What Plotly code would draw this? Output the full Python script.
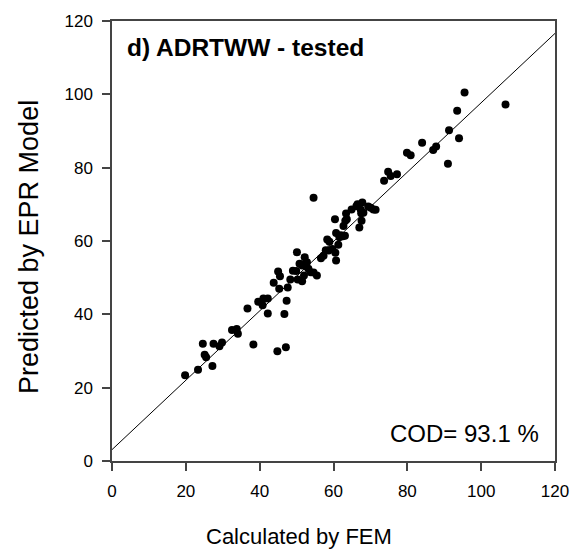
import plotly.graph_objects as go

# Calculated by FEM (x) and Predicted by EPR Model (y)
fem = [19.8, 23.3, 24.6, 25.1, 25.5, 27.2, 27.5, 29.1, 29.8, 32.5,
       33.8, 34.1, 36.7, 38.3, 39.6, 40.8, 41.0, 42.2, 42.2, 43.8,
       44.8, 45.0, 45.5, 45.3, 46.7, 47.1, 47.3, 47.6, 48.3, 49.0,
       50.1, 50.3, 50.8, 51.5, 51.5, 52.0, 52.2, 52.5, 52.8, 53.2,
       53.8, 54.6, 54.6, 55.5, 56.6, 57.3, 58.3, 58.9, 58.7, 59.7,
       60.4, 60.5, 60.7, 60.7, 61.3, 61.6, 62.5, 63.1, 62.7, 63.2,
       63.6, 63.4, 64.9, 66.2, 66.5, 67.0, 67.4, 67.5, 67.6, 67.8,
       68.1, 69.4, 70.1, 70.8, 71.4, 73.7, 74.8, 75.5, 77.2, 79.9,
       80.9, 84.0, 87.0, 87.8, 91.0, 91.3, 93.5, 94.0, 95.5, 106.6,
       51.4, 49.9, 57.9, 62.0]
epr = [23.4, 24.9, 32.0, 29.0, 28.3, 25.9, 32.0, 31.3, 32.3, 35.7,
       36.0, 34.7, 41.6, 31.8, 43.4, 42.5, 44.3, 44.3, 40.2, 48.6,
       29.9, 51.7, 50.4, 47.0, 40.1, 31.0, 43.7, 47.3, 49.5, 51.9,
       56.9, 49.5, 53.8, 49.0, 53.3, 50.6, 55.6, 53.1, 54.2, 52.4,
       51.5, 71.8, 51.4, 50.6, 55.3, 56.0, 60.4, 59.8, 57.4, 57.8,
       65.9, 56.8, 54.7, 62.2, 59.0, 61.0, 61.3, 61.4, 64.1, 65.5,
       65.9, 67.5, 68.6, 69.5, 70.0, 63.7, 68.5, 67.6, 65.5, 70.5,
       67.7, 69.4, 69.1, 68.6, 68.5, 76.4, 78.9, 77.7, 78.2, 84.1,
       83.4, 86.8, 84.8, 85.8, 81.1, 90.2, 95.5, 88.0, 100.5, 97.2,
       53.6, 51.8, 57.5, 61.6]

# fitted line
fit_intercept = 3.1
fit_slope = 0.946
line_x = [0, 120]
line_y = [fit_intercept + fit_slope * v for v in line_x]

tick_vals = [0, 20, 40, 60, 80, 100, 120]
tick_text = ["0", "20", "40", "60", "80", "100", "120"]

FONT = "Liberation Sans, Arial, sans-serif"
AXC = "#444444"

fig = go.Figure()
fig.add_trace(go.Scatter(x=line_x, y=line_y, mode="lines",
                         line=dict(color="black", width=1), hoverinfo="skip"))
fig.add_trace(go.Scatter(x=fem, y=epr, mode="markers",
                         marker=dict(color="black", size=8, line=dict(width=0))))

axis_common = dict(range=[0, 120], tickvals=tick_vals, ticktext=tick_text,
                   showgrid=False, zeroline=False, showline=True, linecolor=AXC,
                   linewidth=1.5, mirror=True, ticks="outside", ticklen=8,
                   tickwidth=1.5, tickcolor=AXC,
                   tickfont=dict(family=FONT, size=17, color="black"))

fig.update_layout(
    width=582, height=555,
    margin=dict(l=112, r=27, t=16, b=94),
    plot_bgcolor="white", paper_bgcolor="white",
    showlegend=False,
    xaxis=dict(**axis_common, ticklabelstandoff=6),
    yaxis=dict(**axis_common, ticklabelstandoff=6),
    annotations=[
        dict(text="<b>d) ADRTWW - tested</b>", xref="paper", yref="paper",
             x=0.030, y=0.939, xanchor="left", yanchor="middle", showarrow=False,
             font=dict(family=FONT, size=24.5, color="black")),
        dict(text="COD= 93.1 %", xref="paper", yref="paper",
             x=0.968, y=0.0616, xanchor="right", yanchor="middle", showarrow=False,
             font=dict(family=FONT, size=24, color="black")),
        dict(text="Calculated by FEM", xref="paper", yref="paper",
             x=0.422, y=-0.172, xanchor="center", yanchor="middle", showarrow=False,
             font=dict(family=FONT, size=22, color="black")),
        dict(text="Predicted by EPR Model", xref="paper", yref="paper",
             x=-0.189, y=0.487, xanchor="center", yanchor="middle", showarrow=False,
             textangle=-90, font=dict(family=FONT, size=27, color="black")),
    ],
)

fig.write_html("out.html")
